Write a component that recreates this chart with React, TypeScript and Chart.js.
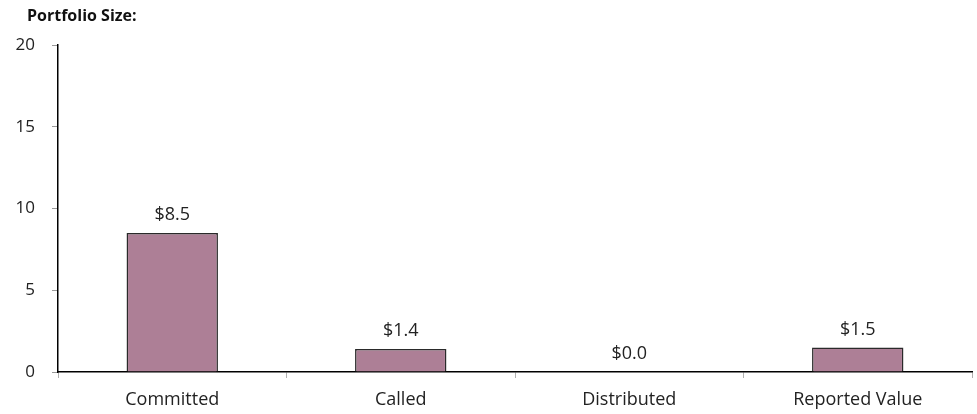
import React, { useEffect, useRef } from "react";
import { Chart, registerables } from "chart.js";

Chart.register(...registerables);

const categories = ["Committed", "Called", "Distributed", "Reported Value"];
const values = [8.5, 1.4, 0.0, 1.5];
const valueLabels = ["$8.5", "$1.4", "$0.0", "$1.5"];
const yTicks = [0, 5, 10, 15, 20];
const chartTitle = "Portfolio Size:";

const FONT = "'Open Sans', sans-serif";
const TEXT = "#222222";

const labelsPlugin = {
  id: "barLabels",
  afterDatasetsDraw(chart: any) {
    const { ctx } = chart;
    const meta = chart.getDatasetMeta(0);
    ctx.save();
    ctx.font = `18px ${FONT}`;
    ctx.fillStyle = TEXT;
    ctx.textAlign = "center";
    ctx.textBaseline = "middle";
    meta.data.forEach((bar: any, i: number) => {
      ctx.fillText(valueLabels[i], bar.x, bar.y - 18);
    });
    ctx.restore();
  },
  afterDraw(chart: any) {
    const { ctx } = chart;
    ctx.save();
    ctx.font = `bold 16px ${FONT}`;
    ctx.fillStyle = "#111111";
    ctx.textAlign = "left";
    ctx.textBaseline = "middle";
    ctx.fillText(chartTitle, 27, 16);
    ctx.restore();
  },
};

export default function App() {
  const ref = useRef<HTMLCanvasElement>(null);

  useEffect(() => {
    if (!ref.current) return;
    const chart = new Chart(ref.current, {
      type: "bar",
      data: {
        labels: categories,
        datasets: [
          {
            data: values,
            backgroundColor: "#AD7F96",
            borderColor: "#2a2a2a",
            borderWidth: 1.5,
            borderSkipped: "start",
            barPercentage: 0.4,
            categoryPercentage: 1,
          },
        ],
      },
      options: {
        animation: false,
        responsive: false,
        maintainAspectRatio: false,
        layout: { padding: { top: 45, right: 5, bottom: 0, left: 0 } },
        plugins: {
          legend: { display: false },
          tooltip: { enabled: false },
          title: { display: false },
        },
        scales: {
          x: {
            offset: true,
            grid: {
              offset: true,
              drawOnChartArea: false,
              drawTicks: true,
              tickLength: 6,
              color: "#b0b0b0",
            },
            border: { color: "#000000", width: 1.5 },
            ticks: {
              color: TEXT,
              font: { family: FONT, size: 18 },
              padding: 11,
              maxRotation: 0,
            },
            afterFit(scale: any) {
              scale.height = 42;
            },
          },
          y: {
            min: 0,
            max: 20,
            afterBuildTicks(scale: any) {
              scale.ticks = yTicks.map((v) => ({ value: v }));
            },
            grid: {
              drawOnChartArea: false,
              drawTicks: true,
              tickLength: 6,
              color: "#999999",
            },
            border: { color: "#000000", width: 1.5 },
            ticks: {
              color: TEXT,
              font: { family: FONT, size: 17 },
              padding: 17,
            },
            afterFit(scale: any) {
              scale.width = 58;
            },
          },
        },
      },
      plugins: [labelsPlugin],
    });
    return () => chart.destroy();
  }, []);

  return (
    <div style={{ position: "fixed", left: 0, top: 0, width: 977, height: 414, background: "#fff" }}>
      <canvas ref={ref} width={977} height={414} style={{ display: "block" }} />
    </div>
  );
}
